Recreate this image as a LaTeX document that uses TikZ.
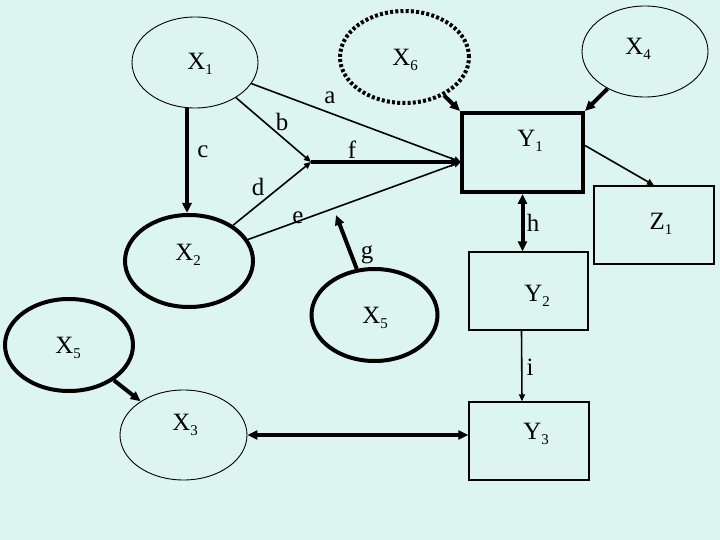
\documentclass[tikz,border=0pt]{standalone}
\usepackage{fontspec}
\setmainfont{Liberation Serif}
\usepackage{tikz}
\usetikzlibrary{arrows.meta,shapes.geometric}
\definecolor{slidebg}{RGB}{220,245,241}
\newcommand{\sbs}[1]{\raisebox{-5bp}{\fontsize{15}{15}\selectfont #1}}

\begin{document}
\begin{tikzpicture}[x=1bp,y=-1bp,
	var/.style={ellipse,draw,line width=0.9bp,inner sep=0pt,minimum width=126bp,minimum height=91bp},
	boldvar/.style={var,line width=4bp},
	box/.style={rectangle,draw,line width=1.4bp,inner sep=0pt,minimum width=120bp,minimum height=78bp},
	lbl/.style={inner sep=0pt,font=\fontsize{25}{29}\selectfont},
	arr/.style={line width=1.6bp,-{Triangle[length=7bp,width=6bp]}},
	boldarr/.style={line width=4bp,-{Triangle[length=10bp,width=9bp]}},
	botharr/.style={line width=4bp,{Triangle[length=10bp,width=9bp]}-{Triangle[length=10bp,width=9bp]}}
	]
	\fill[slidebg] (0,0) rectangle (720,540);
	\useasboundingbox (0,0) rectangle (720,540);
	%
	\node[var] (x1) at (195,62.5) {};
	\node[var,line width=4bp,dash pattern=on 3bp off 2.2bp,minimum width=129bp,minimum height=92bp] (x6) at (404.5,57) {};
	\node[var] (x4) at (645,51.5) {};
	\node[boldvar,minimum width=128bp,minimum height=92bp] (x2) at (189,261) {};
	\node[boldvar,minimum height=92bp] (x5m) at (374.5,315) {};
	\node[boldvar,minimum width=128bp,minimum height=92bp] (x5l) at (69,345) {};
	\node[var,minimum width=127bp,minimum height=90bp] (x3) at (183.5,435) {};
	\node[box,line width=4bp,minimum width=121bp,minimum height=79bp] (y1) at (522.5,152.5) {};
	\node[box] (z1) at (654,225) {};
	\node[box,minimum width=119bp] (y2) at (528.5,291) {};
	\node[box] (y3) at (529,441) {};
	%
	\node[lbl] (tx1) at (200,64) {X\sbs{1}};
	\node[lbl] (tx6) at (405,60) {X\sbs{6}};
	\node[lbl] (tx4) at (638,49) {X\sbs{4}};
	\node[lbl] (tx2) at (188,255) {X\sbs{2}};
	\node[lbl] (tx5m) at (375,318) {X\sbs{5}};
	\node[lbl] (tx5l) at (68,348) {X\sbs{5}};
	\node[lbl] (tx3) at (185,425) {X\sbs{3}};
	\node[lbl] (ty1) at (530,141) {Y\sbs{1}};
	\node[lbl] (tz1) at (661,224) {Z\sbs{1}};
	\node[lbl] (ty2) at (537,296) {Y\sbs{2}};
	\node[lbl] (ty3) at (536,434) {Y\sbs{3}};
	%
	\coordinate (yin) at (461,162);
	\coordinate (fj) at (311,162);
	\coordinate (gend) at (336,215);
	%
	\draw[boldarr] ([xshift=-2bp]x2.north |- x1.south) -- ([xshift=-2bp]x2.north);
	\draw[arr] (x1) -- (yin);
	\draw[arr] (x1) -- (fj);
	\draw[arr] (x2) -- (fj);
	\draw[arr] (x2) -- (yin);
	\draw[boldarr] (fj) -- (yin);
	\draw[boldarr] (x5m) -- (gend);
	\draw[boldarr] (x6) -- (y1.north west);
	\draw[boldarr] (x4) -- (y1.north east);
	\draw[arr] ([yshift=7bp]y1.east) -- (z1.north);
	\draw[botharr] (y1.south) -- (y1.south |- y2.north);
	\draw[arr] ([xshift=-7bp]y2.south) -- ([xshift=-7bp]y3.north);
	\draw[boldarr] (x5l) -- (x3);
	\draw[botharr] (x3.east) -- (x3.east -| y3.west);
	%
	\node[lbl] (la) at (330,98) {a};
	\node[lbl] (lb) at (282,122) {b};
	\node[lbl] (lc) at (203,152) {c};
	\node[lbl] (ld) at (258,187) {d};
	\node[lbl] (le) at (298,218) {e};
	\node[lbl] (lf) at (352,150) {f};
	\node[lbl] (lg) at (367,255) {g};
	\node[lbl] (lh) at (533,223) {h};
	\node[lbl] (li) at (530,367) {i};
\end{tikzpicture}
\end{document}
